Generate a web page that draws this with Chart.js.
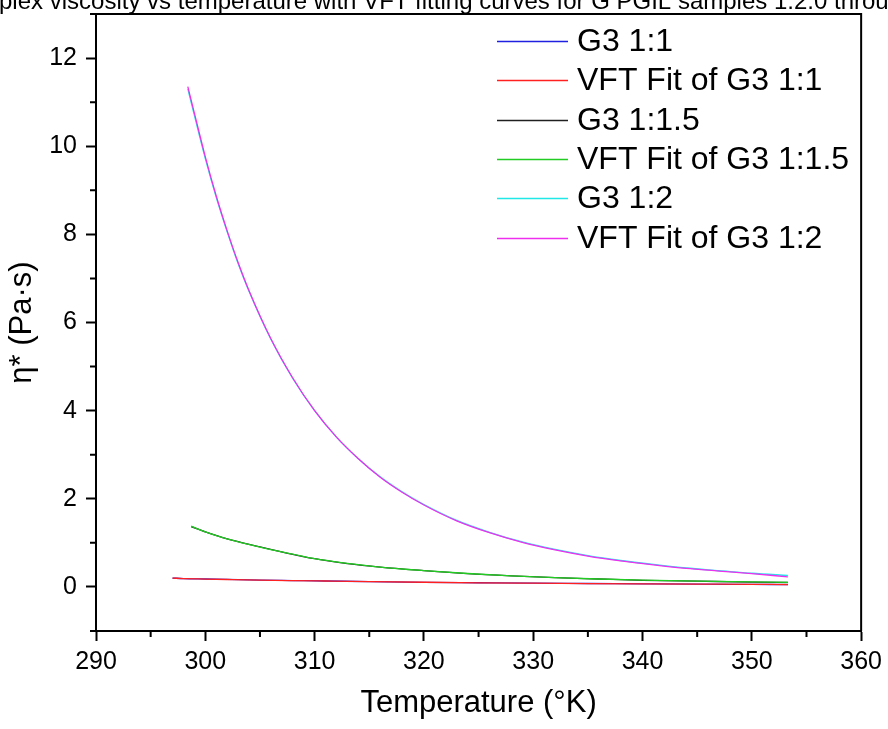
<!DOCTYPE html>
<html>
<head>
<meta charset="utf-8">
<script src="https://cdn.jsdelivr.net/npm/chart.js@4.4.1/dist/chart.umd.min.js"></script>
<style>
  body { margin: 0; background: #fff; }
  #wrap { width: 888px; height: 729px; position: relative; }
</style>
</head>
<body>
<div id="wrap"><canvas id="chart"></canvas></div>
<script>
// data
const seriesNames = ["G3 1:1", "VFT Fit of G3 1:1", "G3 1:1.5", "VFT Fit of G3 1:1.5", "G3 1:2", "VFT Fit of G3 1:2"];
const seriesColors = ["#2020e0", "#ff2020", "#202020", "#22cc22", "#20e8e8", "#ee30ee"];

const tempG11 = [297.0, 298, 300, 302, 305, 308, 311, 315, 320, 325, 330, 335, 340, 345, 350, 353.3];
const etaG11 = [0.20, 0.19, 0.18, 0.17, 0.155, 0.145, 0.135, 0.12, 0.105, 0.095, 0.085, 0.078, 0.07, 0.063, 0.057, 0.053];
const fitG11 = [0.20, 0.19, 0.179, 0.169, 0.155, 0.144, 0.134, 0.121, 0.106, 0.094, 0.085, 0.077, 0.07, 0.064, 0.058, 0.054];

const tempG115 = [298.7, 300, 302, 305, 308, 310, 313, 316, 320, 324, 328, 332, 336, 340, 345, 350, 353.3];
const etaG115 = [1.37, 1.25, 1.09, 0.91, 0.74, 0.64, 0.53, 0.45, 0.37, 0.30, 0.25, 0.21, 0.18, 0.15, 0.13, 0.11, 0.10];
const fitG115 = [1.38, 1.25, 1.09, 0.905, 0.745, 0.64, 0.535, 0.45, 0.37, 0.305, 0.25, 0.21, 0.18, 0.155, 0.13, 0.115, 0.105];

const tempG12 = [298.4, 299, 300, 301, 302, 303, 304, 306, 308, 310, 312, 314, 316, 318, 320, 323, 326, 329, 332, 335, 338, 341, 344, 347, 350, 353.3];
const etaG12 = [11.30, 10.70, 9.72, 8.84, 8.06, 7.34, 6.71, 5.62, 4.73, 4.00, 3.40, 2.91, 2.50, 2.16, 1.87, 1.51, 1.24, 1.02, 0.85, 0.71, 0.60, 0.51, 0.43, 0.37, 0.31, 0.26];
const fitG12 = [11.35, 10.75, 9.76, 8.87, 8.08, 7.36, 6.72, 5.63, 4.74, 4.00, 3.40, 2.91, 2.49, 2.15, 1.86, 1.50, 1.23, 1.01, 0.84, 0.70, 0.59, 0.50, 0.42, 0.36, 0.30, 0.23];

const xTicks = [290, 300, 310, 320, 330, 340, 350, 360];
const yTicks = [0, 2, 4, 6, 8, 10, 12];

const titleText = "Complex viscosity vs temperature with VFT fitting curves for G PGIL samples 1:2.0 through 1:1";
const FONT = '"Liberation Sans", Arial, sans-serif';

const toPoints = (xs, ys) => xs.map((x, i) => ({ x: x, y: ys[i] }));
const seriesData = [
  toPoints(tempG11, etaG11),
  toPoints(tempG11, fitG11),
  toPoints(tempG115, etaG115),
  toPoints(tempG115, fitG115),
  toPoints(tempG12, etaG12),
  toPoints(tempG12, fitG12)
];

// frame, minor ticks, legend and clipped title
const decorations = {
  id: "decorations",
  afterDraw(chart) {
    const { ctx, chartArea: a, scales } = chart;
    ctx.save();

    // top + right frame
    ctx.strokeStyle = "#000";
    ctx.lineWidth = 2;
    ctx.beginPath();
    ctx.moveTo(a.left, a.top);
    ctx.lineTo(a.right, a.top);
    ctx.lineTo(a.right, a.bottom);
    ctx.stroke();

    // minor ticks
    ctx.beginPath();
    scales.x.ticks.forEach(t => {
      if (!xTicks.includes(t.value)) {
        const px = scales.x.getPixelForValue(t.value);
        ctx.moveTo(px, a.bottom);
        ctx.lineTo(px, a.bottom + 6);
      }
    });
    scales.y.ticks.forEach(t => {
      if (!yTicks.includes(t.value)) {
        const py = scales.y.getPixelForValue(t.value);
        ctx.moveTo(a.left, py);
        ctx.lineTo(a.left - 6, py);
      }
    });
    ctx.stroke();

    // legend inside plot
    ctx.font = "32px " + FONT;
    ctx.textBaseline = "middle";
    ctx.textAlign = "left";
    seriesNames.forEach((name, i) => {
      const y = Math.round(a.top + 27 + i * 39.3) + 0.5;
      ctx.strokeStyle = seriesColors[i];
      ctx.lineWidth = 1.5;
      ctx.beginPath();
      ctx.moveTo(a.left + 401, y);
      ctx.lineTo(a.left + 472, y);
      ctx.stroke();
      ctx.fillStyle = "#000";
      ctx.fillText(name, a.left + 481, y + 1);
    });

    // title, wider than the canvas
    ctx.font = "24px " + FONT;
    ctx.textBaseline = "alphabetic";
    ctx.fillText(titleText, -ctx.measureText("Com").width - 1, 9);
    ctx.restore();
  }
};

new Chart(document.getElementById("chart"), {
  type: "scatter",
  data: {
    datasets: seriesNames.map((name, i) => ({
      label: name,
      data: seriesData[i],
      showLine: true,
      borderColor: seriesColors[i],
      backgroundColor: seriesColors[i],
      borderWidth: 1.3,
      pointRadius: 0,
      cubicInterpolationMode: "monotone",
      order: seriesNames.length - i
    }))
  },
  options: {
    responsive: true,
    maintainAspectRatio: false,
    animation: false,
    layout: { padding: { top: 14, right: 26, left: 0, bottom: 0 } },
    plugins: {
      legend: { display: false },
      tooltip: { enabled: false }
    },
    scales: {
      x: {
        type: "linear",
        min: 290,
        max: 360,
        afterFit: scale => { scale.height = 98; },
        border: { color: "#000", width: 2 },
        grid: {
          drawOnChartArea: false,
          tickLength: 10,
          tickWidth: 2,
          tickColor: c => xTicks.includes(c.tick.value) ? "#000" : "rgba(0,0,0,0)"
        },
        ticks: {
          stepSize: 5,
          autoSkip: false,
          maxRotation: 0,
          padding: 6,
          color: "#000",
          font: { family: FONT, size: 25 },
          callback: v => xTicks.includes(v) ? v : ""
        },
        title: {
          display: true,
          text: "Temperature (°K)",
          color: "#000",
          font: { family: FONT, size: 31 },
          padding: { top: 0, bottom: 7 }
        }
      },
      y: {
        type: "linear",
        min: -1,
        max: 13,
        afterFit: scale => {
          scale.width = 96;
          scale.paddingTop = 0;
          scale.paddingBottom = 0;
        },
        border: { color: "#000", width: 2 },
        grid: {
          drawOnChartArea: false,
          tickLength: 10,
          tickWidth: 2,
          tickColor: c => yTicks.includes(c.tick.value) ? "#000" : "rgba(0,0,0,0)"
        },
        ticks: {
          stepSize: 1,
          autoSkip: false,
          padding: 9,
          color: "#000",
          font: { family: FONT, size: 25 },
          callback: v => yTicks.includes(v) ? v : ""
        },
        title: {
          display: true,
          text: "η* (Pa·s)",
          color: "#000",
          font: { family: FONT, size: 31 },
          padding: { top: 4, bottom: 0 }
        }
      }
    }
  },
  plugins: [decorations]
});
</script>
</body>
</html>
